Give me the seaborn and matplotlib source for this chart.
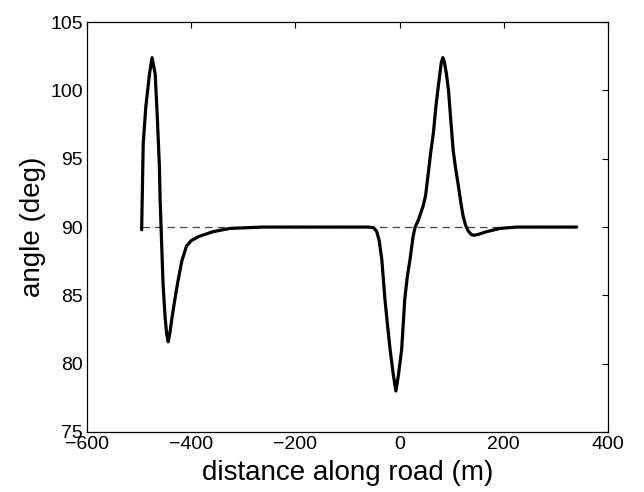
import matplotlib
matplotlib.use("Agg")
import matplotlib.pyplot as plt
import seaborn as sns

# curve (distance in m, angle in deg)
dist = [-495, -492, -487, -480, -475, -469, -465, -461, -459.5, -457, -454, -450,
        -447, -444, -441, -437, -430, -425, -418, -409, -400, -386, -358, -326,
        -262, -200, -100, -60, -50, -44, -39, -34, -28, -23, -18, -12, -7, -2,
        4, 10, 15, 20, 26, 30, 36, 45, 50, 55, 60, 65, 70, 76, 80, 83, 86, 90,
        94, 98, 103, 108, 113, 118, 122, 127, 132, 138, 143, 150, 167, 193, 225,
        280, 340]
angle = [89.8, 96.1, 98.8, 101.2, 102.4, 101.2, 98.1, 94.5, 92.0, 89.2, 85.9, 83.4,
         82.2, 81.6, 82.2, 83.3, 85.0, 86.1, 87.5, 88.6, 89.0, 89.3, 89.66, 89.9,
         90.0, 90.0, 90.0, 90.0, 89.95, 89.7, 89.0, 87.6, 84.7, 82.8, 81.0, 79.2, 78.0, 79.2,
         81.0, 84.7, 86.4, 87.6, 89.3, 90.0, 90.5, 91.5, 92.3, 93.9, 95.5, 96.9, 98.9,
         100.8, 102.0, 102.4, 102.1, 101.2, 100.0, 98.0, 95.6, 94.2, 93.0, 91.7, 90.8,
         90.1, 89.7, 89.45, 89.4, 89.45, 89.66, 89.9, 90.0, 90.0, 90.0]

# reference line at 90 deg
ref_x = [-495, 340]
ref_y = [90, 90]

xticks = [-600, -400, -200, 0, 200, 400]
yticks = [75, 80, 85, 90, 95, 100, 105]

sns.set_style("white")
plt.rcParams['font.family'] = ['Liberation Sans', 'DejaVu Sans']
plt.rcParams['text.color'] = 'black'
plt.rcParams['axes.labelcolor'] = 'black'

fig = plt.figure(figsize=(6.44, 4.92), dpi=100)
ax = fig.add_axes([0.135, 0.122, 0.809, 0.833])

sns.lineplot(x=ref_x, y=ref_y, color='#444444', lw=0.9, ls=(0, (6, 4)), ax=ax)
sns.lineplot(x=dist, y=angle, sort=False, estimator=None, color='black', lw=2.3, ax=ax)

ax.set_xlim(-600, 400)
ax.set_ylim(75, 105)
ax.set_xticks(xticks)
ax.set_yticks(yticks)
ax.tick_params(direction='in', top=True, right=True, length=4, width=0.8,
               colors='black', labelsize=14)
ax.tick_params(axis='x', pad=3)
ax.tick_params(axis='y', pad=3)
for s in ax.spines.values():
    s.set_color('black')
    s.set_linewidth(0.9)

ax.set_xlabel('distance along road (m)', fontsize=20, labelpad=5)
ax.set_ylabel('angle (deg)', fontsize=20, labelpad=3)

fig.savefig('out.png', dpi=100)
